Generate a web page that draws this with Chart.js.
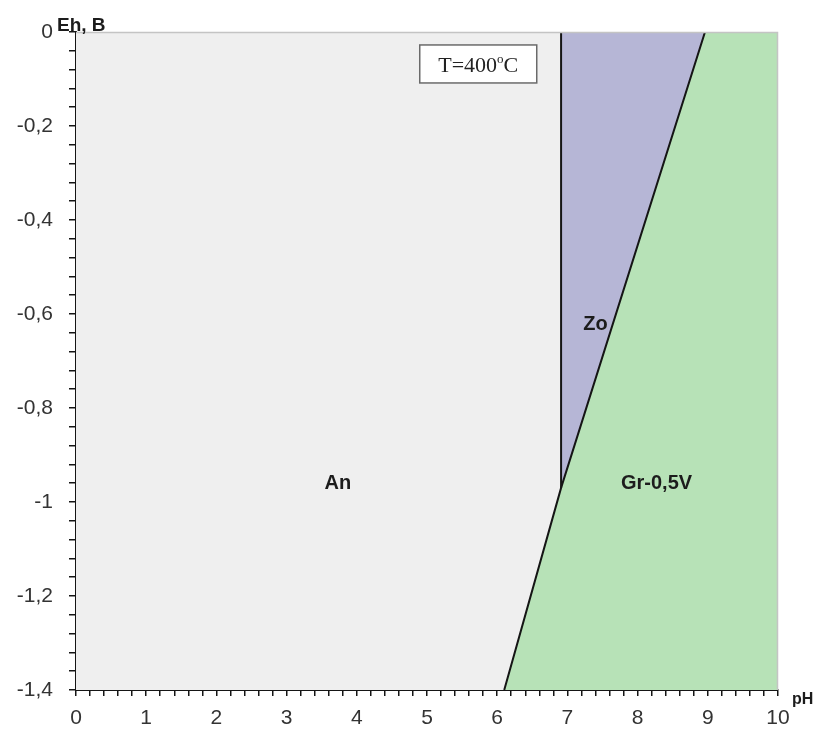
<!DOCTYPE html>
<html>
<head>
<meta charset="utf-8">
<script src="https://cdn.jsdelivr.net/npm/chart.js@4.4.1/dist/chart.umd.min.js"></script>
<style>
  html, body { margin: 0; padding: 0; background: #ffffff; }
  #wrap { width: 824px; height: 730px; }
</style>
</head>
<body>
<div id="wrap"><canvas id="c" width="824" height="730"></canvas></div>
<script>
// Axis ranges and tick labels
const pHMin = 0, pHMax = 10;
const EhMin = -1.4, EhMax = 0;
const xTickLabels = ['0', '1', '2', '3', '4', '5', '6', '7', '8', '9', '10'];
const yTickLabels = ['0', '-0,2', '-0,4', '-0,6', '-0,8', '-1', '-1,2', '-1,4'];

// Field boundaries (pH, Eh)
const anGrPH = [6.1, 6.91];          // An / Gr-0,5V
const anGrEh = [-1.4, -0.97];
const zoGrPH = [6.91, 8.96];         // Zo / Gr-0,5V
const zoGrEh = [-0.97, 0];
const anZoPH = [6.91, 6.91];         // An / Zo
const anZoEh = [-0.97, 0];

// Field names and label positions
const fieldNames = ['An', 'Zo', 'Gr-0,5V'];
const fieldPH = [3.73, 7.4, 8.27];
const fieldEh = [-0.96, -0.623, -0.96];

const tempLabel = { pH: 5.73, Eh: -0.068 };

const zip = (xs, ys) => xs.map((x, i) => ({ x: x, y: ys[i] }));

const boundaryStyle = {
  borderColor: '#151515', borderWidth: 2, pointRadius: 0, fill: false, tension: 0
};

const datasets = [
  Object.assign({ data: zip(anGrPH.concat(zoGrPH.slice(1)), anGrEh.concat(zoGrEh.slice(1))) }, boundaryStyle),
  Object.assign({ data: zip(anZoPH, anZoEh) }, boundaryStyle),
  { // Zo field: above the Zo/Gr line
    data: zip(zoGrPH, zoGrEh),
    fill: 'end', backgroundColor: '#b6b6d6', borderWidth: 0, pointRadius: 0
  },
  { // Gr-0,5V field: below the full Gr boundary
    data: zip(anGrPH.concat(zoGrPH.slice(1), [pHMax]), anGrEh.concat(zoGrEh.slice(1), [EhMax])),
    fill: 'start', backgroundColor: '#b7e2b7', borderWidth: 0, pointRadius: 0
  },
  { // An field covers the rest of the diagram
    data: zip([pHMin, pHMax], [EhMax, EhMax]),
    fill: 'start', backgroundColor: '#efefef', borderWidth: 0, pointRadius: 0
  }
];

const labelsPlugin = {
  id: 'diagramLabels',
  afterDatasetsDraw(chart) {
    const ctx = chart.ctx;
    const xs = chart.scales.x, ys = chart.scales.y;
    const a = chart.chartArea;
    ctx.save();

    // frame edges at top and right
    ctx.strokeStyle = '#c4c4c4';
    ctx.lineWidth = 1.5;
    ctx.beginPath();
    ctx.moveTo(a.left, a.top + 0.5);
    ctx.lineTo(a.right - 0.5, a.top + 0.5);
    ctx.lineTo(a.right - 0.5, a.bottom);
    ctx.stroke();

    // field names
    ctx.fillStyle = '#1c1c1c';
    ctx.font = 'bold 20px "Liberation Sans", Arial, sans-serif';
    ctx.textAlign = 'center';
    ctx.textBaseline = 'middle';
    fieldNames.forEach((n, i) => {
      ctx.fillText(n, xs.getPixelForValue(fieldPH[i]), ys.getPixelForValue(fieldEh[i]));
    });

    // temperature box
    const cx = xs.getPixelForValue(tempLabel.pH), cy = ys.getPixelForValue(tempLabel.Eh);
    const bw = 117, bh = 38;
    ctx.fillStyle = '#ffffff';
    ctx.fillRect(cx - bw / 2, cy - bh / 2, bw, bh);
    ctx.strokeStyle = '#6a6a6a';
    ctx.lineWidth = 1.5;
    ctx.strokeRect(cx - bw / 2, cy - bh / 2, bw, bh);
    ctx.fillStyle = '#222';
    ctx.textBaseline = 'alphabetic';
    ctx.textAlign = 'left';
    const mainFont = '22px "Liberation Serif", "Times New Roman", serif';
    const supFont = '13px "Liberation Serif", "Times New Roman", serif';
    ctx.font = mainFont;
    const w1 = ctx.measureText('T=400').width;
    const w3 = ctx.measureText('C').width;
    ctx.font = supFont;
    const w2 = ctx.measureText('o').width;
    let tx = cx - (w1 + w2 + w3) / 2;
    const base = cy + 8;
    ctx.font = mainFont;
    ctx.fillText('T=400', tx, base);
    tx += w1;
    ctx.font = supFont;
    ctx.fillText('o', tx, base - 9);
    tx += w2;
    ctx.font = mainFont;
    ctx.fillText('C', tx, base);

    // axis titles
    ctx.fillStyle = '#1c1c1c';
    ctx.font = 'bold 19px "Liberation Sans", Arial, sans-serif';
    ctx.fillText('Eh, B', a.left - 19, a.top - 1);
    ctx.font = 'bold 16px "Liberation Sans", Arial, sans-serif';
    ctx.fillText('pH', a.right + 14, a.bottom + 14);
    ctx.restore();
  }
};

const tickFont = { family: '"Liberation Sans", Arial, sans-serif', size: 21 };

new Chart(document.getElementById('c'), {
  type: 'line',
  data: { datasets: datasets },
  plugins: [labelsPlugin],
  options: {
    responsive: false,
    devicePixelRatio: 1,
    animation: false,
    parsing: true,
    layout: { padding: { top: 32, right: 46, left: 0, bottom: 0 } },
    plugins: { legend: { display: false }, tooltip: { enabled: false } },
    scales: {
      x: {
        type: 'linear',
        min: pHMin, max: pHMax,
        ticks: {
          stepSize: 0.2, autoSkip: false, maxRotation: 0, color: '#333',
          font: tickFont, padding: 10,
          callback: (v) => {
            const r = Math.round(v);
            return Math.abs(v - r) < 1e-6 ? xTickLabels[r] : '';
          }
        },
        grid: { drawOnChartArea: false, drawTicks: true, tickLength: 6, color: '#151515', lineWidth: 1.5 },
        border: { display: true, color: '#151515', width: 2 },
        afterFit: (s) => { s.height = 40; s.paddingLeft = 0; s.paddingRight = 0; }
      },
      y: {
        type: 'linear',
        min: EhMin, max: EhMax,
        ticks: {
          stepSize: 0.04, autoSkip: false, color: '#333',
          font: tickFont, padding: 16,
          callback: (v) => {
            const q = -v / 0.2, k = Math.round(q);
            return Math.abs(q - k) < 1e-6 ? yTickLabels[k] : '';
          }
        },
        grid: { drawOnChartArea: false, drawTicks: true, tickLength: 7, color: '#151515', lineWidth: 1.5 },
        border: { display: true, color: '#151515', width: 2 },
        afterFit: (s) => { s.width = 76; s.paddingTop = 0; s.paddingBottom = 0; }
      }
    }
  }
});
</script>
</body>
</html>
